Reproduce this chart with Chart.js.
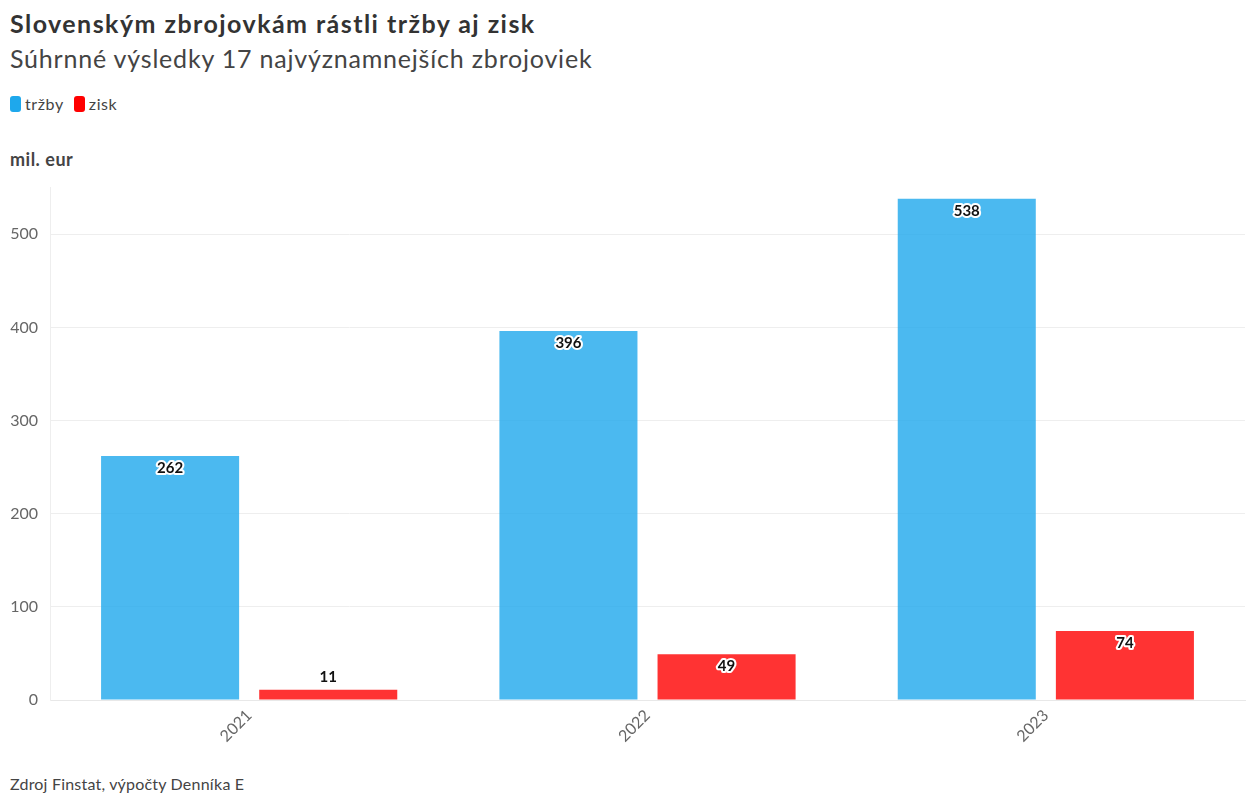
<!DOCTYPE html>
<html>
<head>
<meta charset="utf-8">
<script src="https://cdn.jsdelivr.net/npm/chart.js@4.4.1/dist/chart.umd.min.js"></script>
<style>
  html, body { margin: 0; padding: 0; background: #fff; }
  body { width: 1250px; height: 805px; position: relative; overflow: hidden; font-family: Lato, "Noto Sans", sans-serif; color: #333; }
  #title { position: absolute; left: 10px; top: 8px; font-size: 25px; font-weight: 700; color: #333; white-space: nowrap; letter-spacing: 1.45px; }
  #subtitle { position: absolute; left: 10px; top: 43px; font-size: 25px; font-weight: 400; color: #444; white-space: nowrap; letter-spacing: 0.8px; }
  #legend { position: absolute; left: 10px; top: 94px; display: flex; font-size: 16px; color: #444; letter-spacing: 0.6px; }
  .item { display: flex; align-items: center; margin-right: 10px; }
  .sw { width: 11px; height: 16px; border-radius: 3px; margin-right: 4px; }
  #unit { position: absolute; left: 10px; top: 148px; font-size: 18px; font-weight: 700; color: #444; letter-spacing: 0.5px; }
  #footer { position: absolute; left: 10px; top: 774px; font-size: 16px; color: #444; letter-spacing: 0.2px; }
  #wrap { position: absolute; left: 0; top: 166px; width: 1250px; height: 604px; }
</style>
</head>
<body>
<div id="title">Slovenským zbrojovkám rástli tržby aj zisk</div>
<div id="subtitle">Súhrnné výsledky 17 najvýznamnejších zbrojoviek</div>
<div id="legend"></div>
<div id="unit">mil. eur</div>
<div id="wrap"><canvas id="c" width="1250" height="604"></canvas></div>
<div id="footer">Zdroj Finstat, výpočty Denníka E</div>
<script>
const categories = ['2021', '2022', '2023'];
const trzby = [262, 396, 538];
const zisk = [11, 49, 74];
const seriesNames = ['tržby', 'zisk'];
const yTicks = [0, 100, 200, 300, 400, 500];

const legendColors = ['#1ea8ec', '#ff0000'];
const barColors = ['rgba(30,168,236,0.8)', 'rgba(255,0,0,0.8)'];

const legend = document.getElementById('legend');
seriesNames.forEach((n, i) => {
  const it = document.createElement('div');
  it.className = 'item';
  it.innerHTML = '<span class="sw" style="background:' + legendColors[i] + '"></span><span>' + n + '</span>';
  legend.appendChild(it);
});

const labelPlugin = {
  id: 'barLabels',
  afterDatasetsDraw(chart) {
    const ctx = chart.ctx;
    ctx.save();
    ctx.font = 'bold 15px Lato, "Noto Sans", sans-serif';
    ctx.textAlign = 'center';
    ctx.textBaseline = 'middle';
    ctx.lineJoin = 'round';
    chart.data.datasets.forEach((ds, di) => {
      const meta = chart.getDatasetMeta(di);
      meta.data.forEach((bar, i) => {
        const v = ds.data[i];
        const h = bar.base - bar.y;
        const y = h > 26 ? bar.y + 12 : bar.y - 13;
        ctx.strokeStyle = '#fff';
        ctx.lineWidth = 4;
        ctx.strokeText(String(v), bar.x, y);
        ctx.fillStyle = '#111';
        ctx.fillText(String(v), bar.x, y);
      });
    });
    ctx.restore();
  }
};

new Chart(document.getElementById('c'), {
  type: 'bar',
  data: {
    labels: categories,
    datasets: [
      { label: seriesNames[0], data: trzby, backgroundColor: barColors[0] },
      { label: seriesNames[1], data: zisk, backgroundColor: barColors[1] }
    ]
  },
  options: {
    responsive: false,
    animation: false,
    devicePixelRatio: 1,
    categoryPercentage: 0.794,
    barPercentage: 0.873,
    layout: { padding: { top: 6, right: 5, left: 0, bottom: 0 } },
    plugins: { legend: { display: false }, tooltip: { enabled: false } },
    scales: {
      x: {
        grid: { display: false, drawTicks: false },
        border: { display: true, color: '#e8e8e8' },
        ticks: { minRotation: 45, maxRotation: 45, padding: 6, color: '#666', font: { family: 'Lato, "Noto Sans", sans-serif', size: 16 } },
        afterFit(s) { s.height = 70; }
      },
      y: {
        min: 0, max: 550,
        afterBuildTicks(axis) { axis.ticks = yTicks.map(v => ({ value: v })); },
        grid: { color: '#eeeeee', drawTicks: false },
        border: { display: true, color: '#eeeeee' },
        ticks: { padding: 12, color: '#666', font: { family: 'Lato, "Noto Sans", sans-serif', size: 16 } },
        afterFit(s) { s.width = 50; }
      }
    }
  },
  plugins: [labelPlugin]
});
</script>
</body>
</html>
